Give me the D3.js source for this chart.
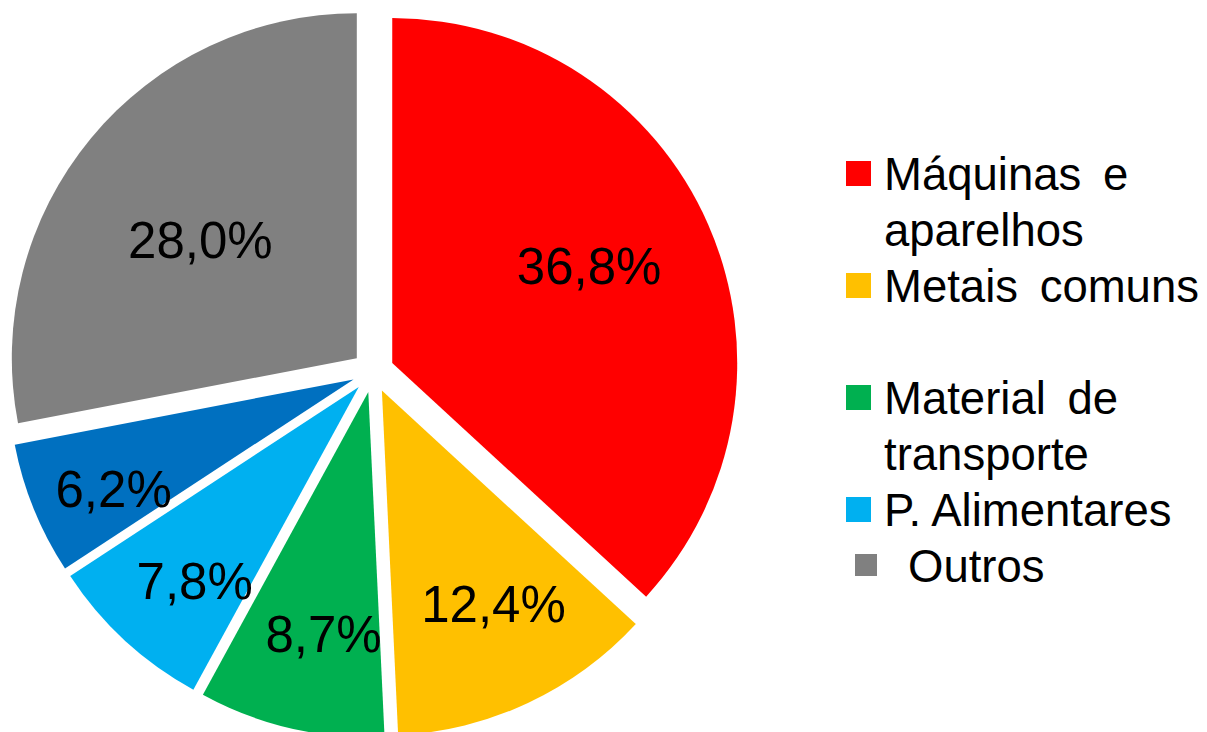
<!DOCTYPE html>
<html lang="pt">
	<head>
		<meta charset="utf-8">
		<title>D3: Pie</title>
		<script type="text/javascript" src="https://cdn.jsdelivr.net/npm/d3@7/dist/d3.min.js"></script>
		<style type="text/css">
			body { margin: 0; background: #fff; }
			text { font-family: "Liberation Sans", Arial, sans-serif; }
		</style>
	</head>
	<body>
		<script type="text/javascript">

			//Width and height
			var w = 1207;
			var h = 732;

			//Data
			var categories = ["Máquinas e aparelhos", "Metais comuns", "Material de transporte", "P. Alimentares", "Outros (azul)", "Outros"];
			var values = [36.8, 12.4, 8.7, 7.8, 6.2, 28.0];
			var valueLabels = ["36,8%", "12,4%", "8,7%", "7,8%", "6,2%", "28,0%"];
			var colors = ["#FF0000", "#FFC000", "#00B050", "#00B0F0", "#0070C0", "#808080"];

			//Legend (the dark blue slice has no entry in the original)
			var legendLines = [["Máquinas e", "aparelhos"], ["Metais comuns"], ["Material de", "transporte"], ["P. Alimentares"], ["Outros"]];
			var legendSlice = [0, 1, 2, 3, 5];
			var legendRow = [0, 2, 4, 6, 7];   // line slot of each entry (slot 3 stays empty)

			var cx = 373, cy = 371.5;
			var radius = 345;
			var explode = 21;
			var labelShift = -2.5 * Math.PI / 180;

			var svg = d3.select("body")
						.append("svg")
						.attr("width", w)
						.attr("height", h);

			var pie = d3.pie()
						.sort(null)
						.value(function(d) { return d; });

			var arcs = pie(values);

			var arc = d3.arc()
						.innerRadius(0)
						.outerRadius(radius);

			//bigger slices get their label closer to the centre
			var labelRadius = d3.scaleLinear()
								.domain([6, 8, 9, 13, 28, 37])
								.range([265, 253, 243, 241, 196, 220]);

			var mid = function(d) { return (d.startAngle + d.endAngle) / 2; };

			var slices = svg.append("g")
							.attr("transform", "translate(" + cx + "," + cy + ")")
							.selectAll("g")
							.data(arcs)
							.enter()
							.append("g")
							.attr("transform", function(d) {
								var a = mid(d);
								return "translate(" + (Math.sin(a) * explode) + "," + (-Math.cos(a) * explode) + ")";
							});

			slices.append("path")
				.attr("d", arc)
				.attr("fill", function(d, i) { return colors[i]; });

			slices.append("text")
				.text(function(d, i) { return valueLabels[i]; })
				.attr("x", function(d) { return Math.sin(mid(d) + labelShift) * labelRadius(d.value); })
				.attr("y", function(d) { return -Math.cos(mid(d) + labelShift) * labelRadius(d.value); })
				.attr("dy", "0.35em")
				.attr("text-anchor", "middle")
				.attr("font-size", "51px")
				.attr("fill", "#000");

			//Legend
			var lineY = d3.scaleLinear().domain([0, 7]).range([190, 582]);

			var legend = svg.append("g")
							.selectAll("g")
							.data(legendLines)
							.enter()
							.append("g");

			legend.append("rect")
				.attr("x", function(d, i) { return i == 4 ? 855 : 846; })
				.attr("y", function(d, i) { return lineY(legendRow[i]) - (i == 4 ? 28 : 29); })
				.attr("width", function(d, i) { return i == 4 ? 22 : 25; })
				.attr("height", function(d, i) { return i == 4 ? 22 : 25; })
				.attr("fill", function(d, i) { return colors[legendSlice[i]]; });

			legend.each(function(lines, i) {
				d3.select(this).selectAll("text")
					.data(lines)
					.enter()
					.append("text")
					.text(function(t) { return t; })
					.attr("x", i == 4 ? 908 : 884)
					.attr("y", function(t, j) { return lineY(legendRow[i] + j); })
					.attr("font-size", "45.5px")
					.attr("word-spacing", function(t) { return t.indexOf(".") < 0 ? "9px" : "0px"; })
					.attr("fill", "#000");
			});

		</script>
	</body>
</html>
